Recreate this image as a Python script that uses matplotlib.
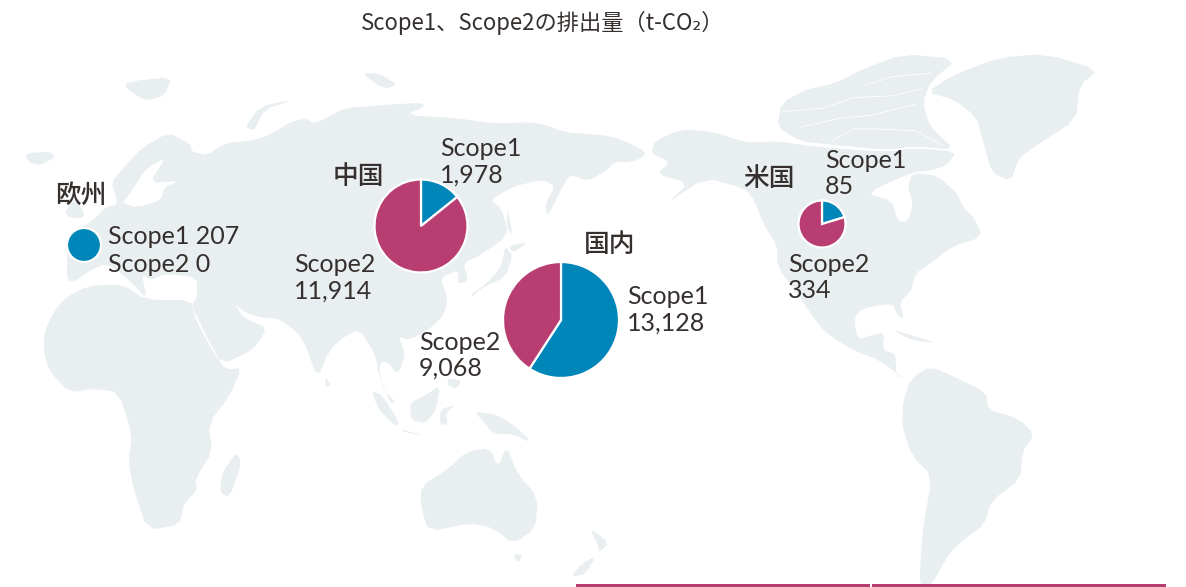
import matplotlib
matplotlib.use("Agg")
import matplotlib.pyplot as plt
from matplotlib.patches import Polygon, Rectangle

# ---- data ----
regions = ["国内", "中国", "米国", "欧州"]
scope1 = [13128, 1978, 85, 207]
scope2 = [9068, 11914, 334, 0]
title = "Scope1、Scope2の排出量（t-CO₂）"

BLUE = "#0086B8"
MAGENTA = "#B83E72"
LAND = "#E9EEF1"
INK = "#35302E"
W, H = 1186, 587
LATIN = ["Lato", "Noto Sans CJK JP"]
CJK = ["Noto Sans CJK JP", "DejaVu Sans"]

# ---- decorative base map, outlines traced by eye (two traced crops) ----
left_land = [
 [(175,690),(175,620),(180,560),(225,530),(250,510),(275,480),(310,470),(290,410),(320,370),(370,310),(440,265),(500,300),(500,320),(540,330),(590,295),(650,290),(700,275),(760,235),(800,225),(820,240),(860,220),(900,195),(1020,185),(1100,180),(1110,190),(1060,215),(1200,225),(1290,240),(1400,235),(1480,265),(1535,270),(1595,275),(1655,300),(1690,325),(1665,345),(1635,350),(1605,350),(1585,375),(1535,405),(1490,385),(1470,420),(1430,510),(1425,470),(1450,420),(1420,400),(1340,420),(1280,460),(1310,480),(1330,560),(1250,620),(1210,640),(1225,690),(1195,700),(1200,660),(1150,680),(1170,740),(1160,790),(1120,830),(1070,860),(1040,850),(1060,900),(1040,960),(1010,920),(990,930),(1000,1000),(1035,1040),(1020,1040),(990,960),(980,900),(940,830),(900,850),(860,890),(830,970),(800,880),(780,840),(730,800),(680,795),(640,780),(610,755),(640,800),(700,825),(660,890),(580,930),(545,860),(500,760),(515,740),(515,680),(430,670),(395,690),(370,670),(385,745),(340,690),(280,640),(235,660),(200,690)],
 [(170,740),(230,705),(320,700),(380,745),(500,745),(510,800),(560,900),(590,945),(632,940),(600,1020),(545,1100),(555,1180),(510,1260),(515,1290),(480,1330),(470,1390),(385,1405),(350,1290),(335,1210),(345,1130),(310,1010),(250,1000),(180,1010),(130,950),(115,900),(115,840),(140,780)],
 [(620,1180),(630,1220),(600,1310),(575,1300),(580,1240)],
 [(1100,1280),(1170,1230),(1220,1180),(1280,1170),(1300,1225),(1325,1165),(1350,1240),(1405,1310),(1400,1400),(1340,1445),(1290,1400),(1230,1385),(1120,1410),(1100,1340)],
 [(1340,1475),(1365,1475),(1355,1500)],
 [(1240,1065),(1300,1075),(1350,1110),(1390,1155),(1340,1130),(1290,1130),(1260,1090)],
 [(1070,1040),(1110,1020),(1150,990),(1140,1060),(1110,1100),(1075,1090)],
 [(970,1005),(1000,1020),(1045,1100),(1030,1105),(990,1060)],
 [(1045,1115),(1110,1135),(1060,1125)],
 [(1150,1060),(1190,1045),(1165,1070),(1170,1100),(1150,1105)],
 [(1170,970),(1205,975),(1195,1000),(1170,990)],
 [(1230,730),(1270,700),(1310,650),(1320,590),(1340,620),(1320,680),(1260,710),(1235,735)],
 [(1330,590),(1380,580),(1340,610)],
 [(1325,480),(1340,560),(1325,540),(1325,500)],
 [(850,965),(865,990),(850,995)],
 [(65,325),(130,320),(145,335),(105,360),(75,350)],
 [(170,490),(200,450),(225,510),(180,510)],
 [(330,120),(450,105),(430,160),(380,175),(330,140)],
 [(640,250),(680,190),(770,170),(690,200),(665,260)],
 [(945,95),(990,95),(1040,130),(1000,140)],
]
left_water = [
 [(320,468),(340,440),(380,370),(435,335),(390,410),(470,405),(430,420),(420,460),(360,480)],
]
right_land = [
 [(180,290),(250,255),(340,265),(420,295),(500,290),(560,300),(640,310),(780,320),(860,310),(970,320),(940,360),(900,375),(850,380),(730,440),(800,460),(815,520),(840,520),(855,470),(840,420),(855,380),(920,390),(970,440),(985,480),(1015,510),(1035,565),(960,590),(900,640),(860,670),(850,720),(820,750),(830,800),(815,790),(800,755),(720,770),(700,800),(710,860),(750,845),(780,840),(775,890),(810,900),(810,960),(840,975),(830,970),(770,920),(700,890),(640,850),(610,820),(560,740),(500,650),(500,590),(465,530),(440,460),(415,425),(310,395),(210,470),(270,410),(185,385),(220,350),(170,325)],
 [(1080,50),(1200,40),(1340,85),(1290,130),(1280,230),(1180,300),(1130,340),(1110,405),(1060,380),(1040,300),(1020,220),(960,170),(890,150),(960,100)],
 [(510,180),(580,140),(650,125),(720,85),(830,40),(970,55),(900,120),(880,180),(900,250),(965,315),(860,305),(780,315),(640,300),(560,290),(500,250)],
 [(800,830),(860,850),(920,870),(850,860)],
 [(850,970),(900,935),(980,975),(1045,1010),(1050,1060),(1130,1085),(1172,1130),(1140,1180),(1135,1260),(1060,1320),(1040,1390),(990,1430),(950,1470),(900,1568),(870,1568),(880,1400),(905,1250),(850,1190),(825,1100),(830,1030)],
 [(10,1400),(60,1440),(35,1470),(30,1445)],
 [(25,1480),(0,1530),(-40,1540),(-10,1500)],
]
right_channels = [
 [(515,205),(620,195),(700,165),(800,160),(880,140)],
 [(560,250),(660,225),(750,215),(860,185)],
 [(640,290),(700,255),(760,255),(860,260),(930,300)],
 [(730,130),(800,105),(900,95)],
]

def crop_to_data(points, x0):
    return [(x0 + x / 2.613, H - (40 + y / 2.867)) for x, y in points]

def soften(points):
    out = []
    n = len(points)
    for i in range(n):
        (x1, y1), (x2, y2) = points[i], points[(i + 1) % n]
        out.append((x1 * .8 + x2 * .2, y1 * .8 + y2 * .2))
        out.append((x1 * .2 + x2 * .8, y1 * .2 + y2 * .8))
    return out

fig = plt.figure(figsize=(W / 100, H / 100), dpi=100, facecolor="white")
ax = fig.add_axes([0, 0, 1, 1])

for poly in left_land:
    ax.add_patch(Polygon(soften(crop_to_data(poly, 0)), fc=LAND, ec="none", zorder=1))
for poly in left_water:
    ax.add_patch(Polygon(soften(crop_to_data(poly, 0)), fc="white", ec="none", zorder=1.5))
for poly in right_land:
    ax.add_patch(Polygon(soften(crop_to_data(poly, 586)), fc=LAND, ec="none", zorder=1))
for line in right_channels:
    xs, ys = zip(*crop_to_data(line, 586))
    ax.plot(xs, ys, color="white", lw=0.6, zorder=1.5)

# ---- layout in pixels from the top-left of the image ----
pie_centers = {"国内": (561, 320), "中国": (421, 226), "米国": (822, 224), "欧州": (84, 245)}
pie_radius = {"国内": 58, "中国": 46.5, "米国": 23.5, "欧州": 17}
head_pos = {"国内": (584, 245), "中国": (333, 176), "米国": (743, 178), "欧州": (55, 195)}
s1_pos = {"国内": (627, 297), "中国": (440, 149), "米国": (825, 160)}
s2_pos = {"国内": (419, 342), "中国": (294, 265), "米国": (788, 265)}
LINE = 26

def put(x, y, s, size=18, fam=LATIN, weight="normal"):
    ax.text(x, H - y, s, ha="left", va="center", fontsize=size, family=fam,
            color=INK, weight=weight, zorder=5)

for i, r in enumerate(regions):
    cx, cy = pie_centers[r]
    vals = [(v, c) for v, c in zip((scope1[i], scope2[i]), (BLUE, MAGENTA)) if v > 0]
    ax.pie([v for v, _ in vals], colors=[c for _, c in vals], center=(cx, H - cy),
           radius=pie_radius[r], startangle=90, counterclock=False,
           wedgeprops=dict(edgecolor="white", linewidth=1.6, zorder=3))
    hx, hy = head_pos[r]
    put(hx, hy, r, size=18.5, fam=CJK, weight="medium")
    if r == "欧州":
        put(108, 237, f"Scope1 {scope1[i]:,}")
        put(108, 264, f"Scope2 {scope2[i]:,}")
    else:
        x, y = s1_pos[r]
        put(x, y, "Scope1")
        put(x, y + LINE, f"{scope1[i]:,}")
        x, y = s2_pos[r]
        put(x, y, "Scope2")
        put(x, y + LINE, f"{scope2[i]:,}")

ax.text(543, H - 23, title, ha="center", va="center", fontsize=16, family=CJK, color=INK, zorder=5)

# bottom rule fragments
for x0, x1 in [(576, 870), (872, 1166)]:
    ax.add_patch(Rectangle((x0, 0), x1 - x0, 3.5, fc=MAGENTA, ec="none", zorder=2))

ax.set_xlim(0, W)
ax.set_ylim(0, H)
ax.set_aspect("auto")
ax.axis("off")
fig.savefig("out.png", dpi=100)
